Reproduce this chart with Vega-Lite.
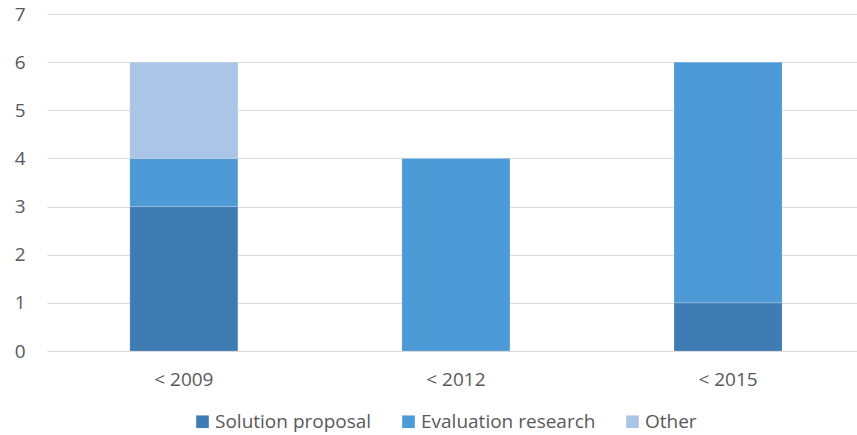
{
  "$schema": "https://vega.github.io/schema/vega-lite/v6.json",
  "width": 810,
  "height": 337,
  "autosize": {"type": "none"},
  "padding": {"left": 47, "top": 14, "right": 0, "bottom": 84},
  "background": "white",
  "data": {
    "values": [
      {"period": "< 2009", "type": "Solution proposal", "ord": 1, "count": 3},
      {"period": "< 2009", "type": "Evaluation research", "ord": 2, "count": 1},
      {"period": "< 2009", "type": "Other", "ord": 3, "count": 2},
      {"period": "< 2012", "type": "Evaluation research", "ord": 2, "count": 4},
      {"period": "< 2015", "type": "Solution proposal", "ord": 1, "count": 1},
      {"period": "< 2015", "type": "Evaluation research", "ord": 2, "count": 5}
    ]
  },
  "mark": {"type": "bar", "stroke": "white", "strokeOpacity": 0.15, "strokeWidth": 1},
  "encoding": {
    "x": {
      "field": "period",
      "type": "nominal",
      "sort": ["< 2009", "< 2012", "< 2015"],
      "scale": {"paddingInner": 0.603, "paddingOuter": 0.29, "align": 0.525},
      "axis": {
        "title": null,
        "labelAngle": 0,
        "ticks": false,
        "domain": false,
        "labelPadding": 19,
        "labelFont": "Open Sans",
        "labelFontSize": 19,
        "labelColor": "#595959"
      }
    },
    "y": {
      "field": "count",
      "type": "quantitative",
      "stack": "zero",
      "scale": {"domain": [0, 7], "nice": false},
      "axis": {
        "title": null,
        "values": [0, 1, 2, 3, 4, 5, 6, 7],
        "ticks": false,
        "domain": false,
        "grid": true,
        "gridColor": "#d9d9d9",
        "gridWidth": 1,
        "labelPadding": 22,
        "labelFont": "Open Sans",
        "labelFontSize": 19,
        "labelColor": "#595959"
      }
    },
    "color": {
      "field": "type",
      "type": "nominal",
      "scale": {
        "domain": ["Solution proposal", "Evaluation research", "Other"],
        "range": ["#407cb4", "#4e9ad7", "#abc5e7"]
      },
      "legend": {
        "title": null,
        "orient": "none",
        "direction": "horizontal",
        "legendX": 146,
        "legendY": 398,
        "symbolType": "square",
        "symbolSize": 160,
        "symbolStrokeWidth": 0,
        "columnPadding": 27,
        "labelFont": "Open Sans",
        "labelFontSize": 19,
        "labelColor": "#595959",
        "labelOffset": 3,
        "labelLimit": 0
      }
    },
    "order": {"field": "ord", "type": "quantitative"}
  },
  "config": {"view": {"stroke": null}}
}
